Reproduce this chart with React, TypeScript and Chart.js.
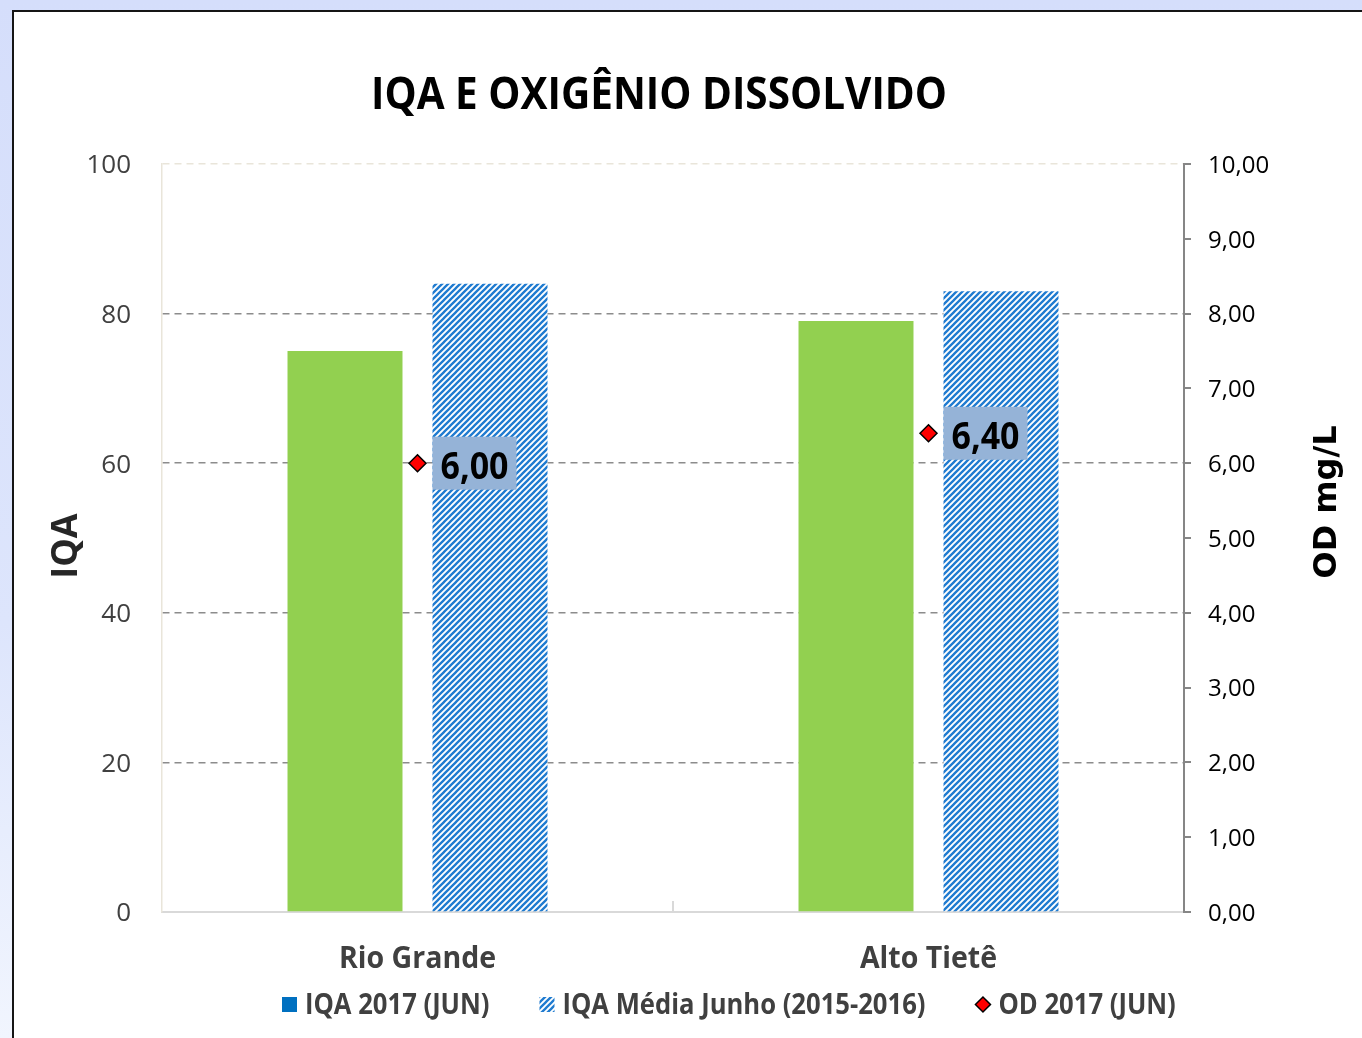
import React, { useEffect, useRef } from 'react';
import { Chart, registerables } from 'chart.js';

Chart.register(...registerables);

// ---------- data ----------
const TITLE = 'IQA E OXIGÊNIO DISSOLVIDO';
const categories = ['Rio Grande', 'Alto Tietê'];
const iqa2017 = [75, 79];
const iqaMedia = [84, 83];
const od2017 = [6.0, 6.4];
const seriesLabels = ['IQA 2017 (JUN)', 'IQA Média Junho (2015-2016)', 'OD 2017 (JUN)'];
const leftAxisTitle = 'IQA';
const rightAxisTitle = 'OD mg/L';
const leftAxisRange = [0, 100, 20];
const rightAxisRange = [0, 10, 1];

const fmt = (v: number) => v.toFixed(2).replace('.', ',');

const GREEN = '#92d050';
const BLUE = '#0070C0';
const STRIPE = '#1f7bd0';
const LABEL_BG = '#95b3d7';
const FONT = '"Open Sans", "Noto Sans", sans-serif';

function makePattern(): CanvasPattern | string {
  const c = document.createElement('canvas');
  c.width = 6;
  c.height = 6;
  const g = c.getContext('2d');
  if (!g) return STRIPE;
  g.fillStyle = '#ffffff';
  g.fillRect(0, 0, 6, 6);
  g.strokeStyle = STRIPE;
  g.lineWidth = 2.3;
  g.beginPath();
  g.moveTo(-1, 7);
  g.lineTo(7, -1);
  g.moveTo(-1, 1);
  g.lineTo(1, -1);
  g.moveTo(5, 7);
  g.lineTo(7, 5);
  g.stroke();
  const p = g.createPattern(c, 'repeat');
  return p || STRIPE;
}

function drawDiamond(ctx: CanvasRenderingContext2D, x: number, y: number, r: number) {
  ctx.beginPath();
  ctx.moveTo(x, y - r);
  ctx.lineTo(x + r, y);
  ctx.lineTo(x, y + r);
  ctx.lineTo(x - r, y);
  ctx.closePath();
  ctx.fillStyle = '#ff0000';
  ctx.fill();
  ctx.lineWidth = 1.5;
  ctx.strokeStyle = '#000000';
  ctx.stroke();
}

export default function App() {
  const ref = useRef<HTMLCanvasElement | null>(null);

  useEffect(() => {
    const canvas = ref.current;
    if (!canvas) return;
    const pattern = makePattern();

    const decor = {
      id: 'decor',
      afterDraw(chart: any) {
        const ctx: CanvasRenderingContext2D = chart.ctx;
        const area = chart.chartArea;
        const xs = chart.scales.x;

        ctx.save();
        // title
        ctx.fillStyle = '#000';
        ctx.font = `bold 45px ${FONT}`;
        ctx.textAlign = 'center';
        ctx.textBaseline = 'alphabetic';
        ctx.fillText(TITLE, 659, 109, 576);

        // category boundary tick
        const bx = (xs.getPixelForValue(0) + xs.getPixelForValue(1)) / 2;
        ctx.strokeStyle = '#d9d9d9';
        ctx.lineWidth = 2;
        ctx.beginPath();
        ctx.moveTo(Math.round(bx), area.bottom - 11);
        ctx.lineTo(Math.round(bx), area.bottom);
        ctx.stroke();

        // category labels
        ctx.fillStyle = '#404040';
        ctx.font = `bold 31px ${FONT}`;
        ctx.textAlign = 'center';
        categories.forEach((c, i) => {
          const w = ctx.measureText(c).width * 0.92;
          ctx.fillText(c, xs.getPixelForValue(i), 967.5, w);
        });

        // left axis title
        ctx.save();
        ctx.translate(64, 546);
        ctx.rotate(-Math.PI / 2);
        ctx.fillStyle = '#262626';
        ctx.font = `bold 36px ${FONT}`;
        ctx.textAlign = 'center';
        ctx.fillText(leftAxisTitle, 0, 12.9);
        ctx.restore();

        // right axis title
        ctx.save();
        ctx.translate(1324, 502);
        ctx.rotate(-Math.PI / 2);
        ctx.fillStyle = '#000';
        ctx.font = 'bold 32px "DejaVu Sans", sans-serif';
        ctx.textAlign = 'center';
        ctx.fillText(rightAxisTitle, 0, 11.7, 153);
        ctx.restore();

        // data labels of OD
        const meta = chart.getDatasetMeta(2);
        meta.data.forEach((pt: any, i: number) => {
          const bxl = pt.x + 15;
          ctx.fillStyle = LABEL_BG;
          ctx.fillRect(bxl, pt.y - 26.5, 84, 53);
          ctx.fillStyle = '#000';
          ctx.font = `bold 38px ${FONT}`;
          ctx.textAlign = 'center';
          ctx.fillText(fmt(od2017[i]), bxl + 42, pt.y + 15.5, 68);
        });

        // legend
        let x = 282;
        const cy = 1004.5;
        ctx.textAlign = 'left';
        seriesLabels.forEach((lab, i) => {
          if (i === 0) {
            ctx.fillStyle = BLUE;
            ctx.fillRect(x, cy - 7.5, 15, 15);
          } else if (i === 1) {
            ctx.fillStyle = pattern as any;
            ctx.fillRect(x, cy - 7.5, 15, 15);
          } else {
            drawDiamond(ctx, x + 7.5, cy, 7.5);
          }
          x += 15 + 8;
          ctx.fillStyle = '#404040';
          ctx.font = `bold 28px ${FONT}`;
          const w = ctx.measureText(lab).width * 0.915;
          ctx.fillText(lab, x, 1014, w);
          x += w + 50;
        });
        ctx.restore();
      },
    };

    const chart = new Chart(canvas, {
      data: {
        labels: categories,
        datasets: [
          {
            type: 'bar',
            label: seriesLabels[0],
            data: iqa2017,
            backgroundColor: GREEN,
            yAxisID: 'y',
            categoryPercentage: 0.5675,
            barPercentage: 0.793,
            order: 1,
          },
          {
            type: 'bar',
            label: seriesLabels[1],
            data: iqaMedia,
            backgroundColor: pattern as any,
            yAxisID: 'y',
            categoryPercentage: 0.5675,
            barPercentage: 0.793,
            order: 1,
          },
          {
            type: 'line',
            label: seriesLabels[2],
            data: od2017,
            yAxisID: 'y1',
            showLine: false,
            pointStyle: 'rectRot',
            pointRadius: 8.5,
            pointBackgroundColor: '#ff0000',
            pointBorderColor: '#000000',
            pointBorderWidth: 1.5,
            order: 0,
          },
        ],
      } as any,
      options: {
        responsive: false,
        animation: false,
        devicePixelRatio: 1,
        layout: { padding: { top: 164, left: 0, right: 0, bottom: 0 } },
        plugins: {
          legend: { display: false },
          title: { display: false },
          tooltip: { enabled: false },
        },
        scales: {
          x: {
            type: 'category',
            offset: true,
            ticks: { display: false },
            grid: { display: false },
            border: { display: true, color: '#d9d9d9', width: 2 },
            afterFit: (s: any) => {
              s.height = 126;
            },
          },
          y: {
            position: 'left',
            min: leftAxisRange[0],
            max: leftAxisRange[1],
            ticks: {
              stepSize: leftAxisRange[2],
              color: '#404040',
              font: { family: FONT, size: 26 },
              padding: 31,
              labelOffset: 2,
            },
            grid: {
              drawTicks: false,
              lineWidth: 1.5,
              color: (c: any) => {
                const v = c.tick ? c.tick.value : 0;
                if (v === leftAxisRange[1]) return '#e9e5da';
                if (v === leftAxisRange[0]) return 'rgba(0,0,0,0)';
                return '#8c8c8c';
              },
            },
            border: { display: true, color: '#e9e5da', width: 1.5, dash: [7, 5] },
            afterFit: (s: any) => {
              s.width = 162;
            },
          },
          y1: {
            position: 'right',
            min: rightAxisRange[0],
            max: rightAxisRange[1],
            ticks: {
              stepSize: rightAxisRange[2],
              color: '#000000',
              font: { family: FONT, size: 24 },
              padding: 17,
              labelOffset: 2,
              callback: (v: any) => fmt(Number(v)),
            },
            grid: {
              drawOnChartArea: false,
              drawTicks: true,
              tickLength: 7,
              tickColor: '#868686',
              tickWidth: 2,
              color: '#868686',
              lineWidth: 2,
            },
            border: { display: true, color: '#868686', width: 2 },
            afterFit: (s: any) => {
              s.width = 178;
            },
          },
        },
      } as any,
      plugins: [decor],
    });

    return () => chart.destroy();
  }, []);

  return (
    <div
      style={{
        position: 'fixed',
        left: 0,
        top: 0,
        width: 1362,
        height: 1038,
        overflow: 'hidden',
        background: 'linear-gradient(to bottom, #d5defb 0%, #dde5fc 60%, #f1f5fe 100%)',
      }}
    >
      <div
        style={{
          position: 'absolute',
          left: 12,
          top: 10,
          width: 1420,
          height: 1120,
          background: '#ffffff',
          border: '2px solid #151515',
        }}
      />
      <canvas
        ref={ref}
        width={1362}
        height={1038}
        style={{ position: 'absolute', left: 0, top: 0, width: 1362, height: 1038 }}
      />
    </div>
  );
}
